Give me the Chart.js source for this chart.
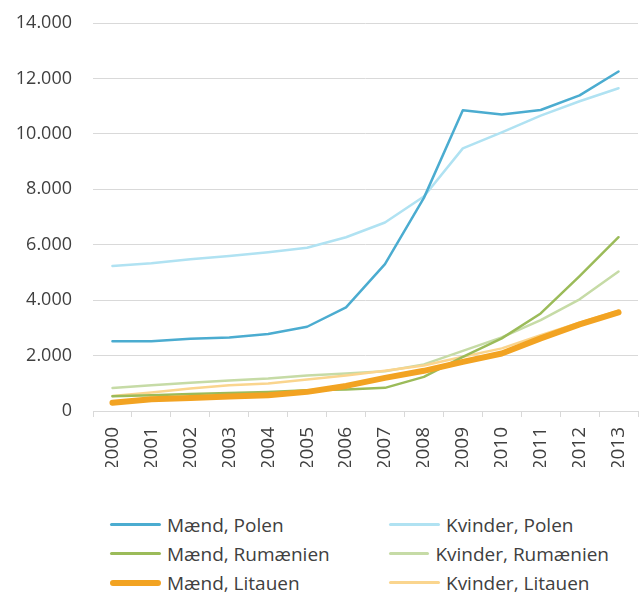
<!DOCTYPE html>
<html>
<head>
<meta charset="utf-8">
<script src="https://cdn.jsdelivr.net/npm/chart.js@4.4.1/dist/chart.umd.min.js"></script>
<style>
    body { margin: 0; background: #fff; font-family: "Open Sans", sans-serif; }
    #wrap { position: relative; width: 640px; height: 595px; }
    #legend { position: absolute; left: 110px; top: 510px; display: grid; grid-template-columns: 279px 220px; grid-auto-rows: 29px; }
    .item { display: flex; align-items: center; font-size: 19px; color: #404040; white-space: nowrap; }
    .swatch { width: 51px; margin-right: 6px; border-radius: 3px; }
</style>
</head>
<body>
<div id="wrap">
    <canvas id="lineChart" width="640" height="480"></canvas>
    <div id="legend"></div>
</div>
<script>
// --- Data ---
const years = ['2000', '2001', '2002', '2003', '2004', '2005', '2006', '2007', '2008', '2009', '2010', '2011', '2012', '2013'];
const maendPolen = [2520, 2520, 2605, 2655, 2775, 3040, 3740, 5300, 7690, 10850, 10700, 10860, 11390, 12250];
const kvinderPolen = [5235, 5330, 5475, 5595, 5730, 5890, 6270, 6800, 7740, 9475, 10055, 10660, 11175, 11645];
const maendRumaenien = [530, 570, 610, 650, 690, 750, 775, 835, 1230, 1955, 2620, 3520, 4870, 6270];
const kvinderRumaenien = [830, 930, 1015, 1100, 1170, 1280, 1350, 1435, 1680, 2170, 2655, 3280, 4030, 5030];
const maendLitauen = [300, 420, 470, 520, 570, 690, 905, 1195, 1450, 1775, 2075, 2620, 3125, 3560];
const kvinderLitauen = [545, 665, 810, 930, 990, 1135, 1280, 1450, 1640, 1955, 2260, 2740, 3190, 3620];

document.addEventListener('DOMContentLoaded', function () {

    const textColor = '#404040';
    const gridColor = '#d9d9d9';

    function fmt(v) {
        return String(v).replace(/\B(?=(\d{3})+(?!\d))/g, '.');
    }

    function series(label, data, color, width) {
        return {
            label: label,
            data: data,
            borderColor: color,
            backgroundColor: color,
            borderWidth: width,
            pointRadius: 0,
            tension: 0,
            borderCapStyle: 'round',
            borderJoinStyle: 'round'
        };
    }

    const datasets = [
        series('Mænd, Polen', maendPolen, '#4bacd0', 2.5),
        series('Kvinder, Polen', kvinderPolen, '#b0e2f2', 2.5),
        series('Mænd, Rumænien', maendRumaenien, '#9bbb59', 2.5),
        series('Kvinder, Rumænien', kvinderRumaenien, '#c6dba6', 2.5),
        series('Mænd, Litauen', maendLitauen, '#f2a322', 6),
        series('Kvinder, Litauen', kvinderLitauen, '#fad58e', 2.5)
    ];
    // lower order is drawn on top
    datasets[0].order = 0;
    datasets[4].order = 1;
    datasets[2].order = 2;
    datasets[5].order = 3;
    datasets[1].order = 4;
    datasets[3].order = 5;

    const ctx = document.getElementById('lineChart').getContext('2d');
    const chart = new Chart(ctx, {
        type: 'line',
        data: { labels: years, datasets: datasets },
        options: {
            responsive: false,
            animation: false,
            layout: { padding: { top: 23, right: 2, bottom: 13, left: 0 } },
            plugins: { legend: { display: false }, tooltip: { enabled: false } },
            scales: {
                y: {
                    min: 0,
                    max: 14000,
                    ticks: {
                        stepSize: 2000,
                        color: textColor,
                        padding: 21,
                        font: { family: 'Open Sans', size: 18 },
                        callback: function (value) { return fmt(value); }
                    },
                    grid: { color: gridColor, lineWidth: 1, drawTicks: false },
                    border: { display: false },
                    afterFit: function (scale) {
                        scale.width = 93;
                        scale.paddingTop = 0;
                        scale.paddingBottom = 0;
                    }
                },
                x: {
                    offset: true,
                    ticks: {
                        color: textColor,
                        minRotation: 90,
                        maxRotation: 90,
                        padding: 10,
                        font: { family: 'Open Sans', size: 19 }
                    },
                    grid: { offset: true, drawOnChartArea: false, drawTicks: true, tickLength: 6, color: gridColor },
                    border: { display: true, color: gridColor, width: 1 },
                    afterFit: function (scale) {
                        scale.height = 56;
                        scale.paddingLeft = 0;
                        scale.paddingRight = 0;
                    }
                }
            }
        }
    });

    // --- Legend ---
    const legend = document.getElementById('legend');
    chart.data.datasets.forEach(function (ds) {
        const item = document.createElement('div');
        item.className = 'item';
        const sw = document.createElement('span');
        sw.className = 'swatch';
        sw.style.height = ds.borderWidth + 'px';
        sw.style.background = ds.borderColor;
        item.appendChild(sw);
        item.appendChild(document.createTextNode(ds.label));
        legend.appendChild(item);
    });

});
</script>
</body>
</html>
